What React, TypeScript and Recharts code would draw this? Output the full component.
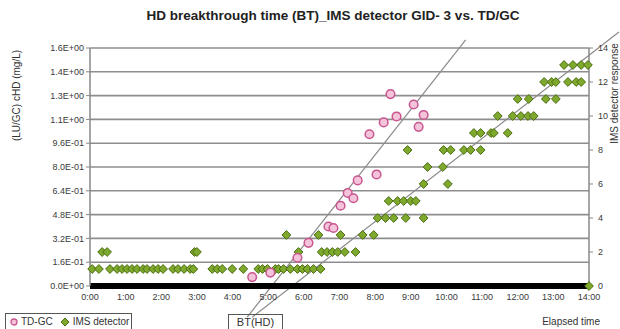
import { ScatterChart, Scatter, XAxis, YAxis, CartesianGrid, ReferenceLine } from 'recharts'

// TD/GC concentration (mg/L) vs elapsed hours
const tdgcTime = [4.55, 5.06, 5.82, 6.13, 6.69, 6.83, 7.03, 7.23, 7.39, 7.51, 7.84, 8.04, 8.24, 8.43, 8.6, 9.08, 9.22, 9.36]
const tdgcConc = [0.06, 0.09, 0.19, 0.29, 0.4, 0.39, 0.54, 0.625, 0.59, 0.71, 1.02, 0.75, 1.1, 1.29, 1.14, 1.22, 1.07, 1.15]

// IMS detector response (units) vs elapsed hours
const imsTime = [
  0.06, 0.25, 0.56, 0.76, 0.9, 1.04, 1.18, 1.32, 1.49, 1.6, 1.77, 1.91, 2.05, 2.33, 2.47, 2.64, 2.81, 2.9,
  3.43, 3.57, 3.71, 3.99, 4.3, 4.72, 4.84, 4.98, 5.2, 5.29, 5.43, 5.62, 5.82, 5.96, 6.1, 6.27, 6.47,
  0.34, 0.48, 2.93, 3.0, 5.85, 6.5, 6.65, 6.8, 6.95, 7.15, 7.45,
  5.51, 6.41, 7.03, 7.65, 7.96,
  8.07, 8.29, 8.52, 8.86, 9.36,
  8.38, 8.63, 8.8, 9.0, 9.14,
  9.36, 10.04,
  9.47, 9.9,
  8.91, 9.92, 10.12, 10.49, 10.68, 10.96,
  10.77, 10.96, 11.25, 11.33, 11.72,
  11.44, 11.86, 12.09, 12.29, 12.45,
  12.0, 12.31, 12.79, 13.07,
  12.74, 12.95, 13.07, 13.41, 13.64, 13.78,
  13.3, 13.55, 13.78, 13.97,
  14.0,
]
const imsResp = [
  1, 1, 1, 1, 1, 1, 1, 1, 1, 1, 1, 1, 1, 1, 1, 1, 1, 1,
  1, 1, 1, 1, 1, 1, 1, 1, 1, 1, 1, 1, 1, 1, 1, 1, 1,
  2, 2, 2, 2, 2, 2, 2, 2, 2, 2, 2,
  3, 3, 3, 3, 3,
  4, 4, 4, 4, 4,
  5, 5, 5, 5, 5,
  6, 6,
  7, 7,
  8, 8, 8, 8, 8, 8,
  9, 9, 9, 9, 9,
  10, 10, 10, 10, 10,
  11, 11, 11, 11,
  12, 12, 12, 12, 12, 12,
  13, 13, 13, 13,
  0,
]

// fitted trend lines (hours, mg/L), ends run down to the BT(HD) note
const tdgcTrend = [{ x: 4.41, y: -0.21 }, { x: 10.54, y: 1.654 }]
const imsTrend = [{ x: 4.55, y: -0.21 }, { x: 14.84, y: 1.708 }]

const xTicks = [0, 1, 2, 3, 4, 5, 6, 7, 8, 9, 10, 11, 12, 13, 14]
const leftTicks = [0, 0.16, 0.32, 0.48, 0.64, 0.8, 0.96, 1.12, 1.28, 1.44, 1.6]
const leftTickLabels = ['0.0E+00', '1.6E-01', '3.2E-01', '4.8E-01', '6.4E-01', '8.0E-01', '9.6E-01', '1.1E+00', '1.3E+00', '1.4E+00', '1.6E+00']
const rightTicks = [0, 2, 4, 6, 8, 10, 12, 14]

const tdgcData = tdgcTime.map((h, i) => ({ h, v: tdgcConc[i] }))
const imsData = imsTime.map((h, i) => ({ h, v: imsResp[i] }))

const FONT = '"Liberation Sans", Arial, sans-serif'
const tick = { fontSize: 9, fill: '#3a3a3a', fontFamily: FONT }

const PinkDot = (p: any) => (
  <circle cx={p.cx} cy={p.cy} r={4.3} fill="#f3c4da" stroke="#c9558f" strokeWidth={1.5} />
)

const GreenDiamond = (p: any) => {
  const { cx, cy } = p
  const r = 4.4
  return (
    <polygon
      points={`${cx},${cy - r} ${cx + r},${cy} ${cx},${cy + r} ${cx - r},${cy}`}
      fill="#7fa92c"
      stroke="#4a6d14"
      strokeWidth={1}
    />
  )
}

export default function App() {
  return (
    <div style={{ position: 'absolute', left: 0, top: 0, width: 620, height: 329, background: '#fff', fontFamily: FONT, overflow: 'hidden' }}>
      <div style={{ position: 'absolute', left: 0, width: 620, top: 8, textAlign: 'center', paddingLeft: 46, boxSizing: 'border-box', fontSize: 13.5, fontWeight: 'bold', color: '#222' }}>
        HD breakthrough time (BT)_IMS detector GID- 3 vs. TD/GC
      </div>

      <ScatterChart width={620} height={329} margin={{ top: 48, right: 6, left: 30, bottom: 23 }}>
        <CartesianGrid yAxisId="left" vertical={false} stroke="#8e8e8e" strokeWidth={1.6} />
        <XAxis
          type="number"
          dataKey="h"
          domain={[0, 14]}
          ticks={xTicks}
          tickFormatter={(v) => `${v}:00`}
          tick={tick}
          tickLine={false}
          axisLine={{ stroke: '#000', strokeWidth: 6 }}
          height={20}
          interval={0}
        />
        <YAxis
          yAxisId="left"
          type="number"
          dataKey="v"
          domain={[0, 1.6]}
          ticks={leftTicks}
          tickFormatter={(v, i) => leftTickLabels[i]}
          tick={tick}
          tickSize={4}
          axisLine={{ stroke: '#888', strokeWidth: 1.5 }}
          tickLine={{ stroke: '#888' }}
          width={60}
          interval={0}
        />
        <YAxis
          yAxisId="right"
          orientation="right"
          type="number"
          dataKey="v"
          domain={[0, 14]}
          ticks={rightTicks}
          tick={tick}
          tickSize={4}
          tickMargin={5}
          axisLine={{ stroke: '#888', strokeWidth: 1.5 }}
          tickLine={{ stroke: '#888' }}
          width={25}
          interval={0}
        />
        <ReferenceLine yAxisId="left" segment={tdgcTrend} stroke="#8a8a8a" strokeWidth={1.2} ifOverflow="visible" />
        <ReferenceLine yAxisId="left" segment={imsTrend} stroke="#8a8a8a" strokeWidth={1.2} ifOverflow="visible" />
        <Scatter name="IMS detector" yAxisId="right" data={imsData} shape={GreenDiamond} isAnimationActive={false} />
        <Scatter name="TD-GC" yAxisId="left" data={tdgcData} shape={PinkDot} isAnimationActive={false} />
      </ScatterChart>

      <div style={{ position: 'absolute', left: 10, top: 30, width: 14, height: 130, display: 'flex', alignItems: 'center', justifyContent: 'center' }}>
        <div style={{ transform: 'rotate(-90deg)', whiteSpace: 'nowrap', fontSize: 10, color: '#333' }}>(LU/GC) cHD (mg/L)</div>
      </div>
      <div style={{ position: 'absolute', left: 607, top: 28, width: 14, height: 130, display: 'flex', alignItems: 'center', justifyContent: 'center' }}>
        <div style={{ transform: 'rotate(-90deg)', whiteSpace: 'nowrap', fontSize: 10, color: '#333' }}>IMS detector response</div>
      </div>

      <div style={{ position: 'absolute', left: 5, top: 313, width: 127, height: 20, border: '1px solid #555', boxSizing: 'border-box', fontSize: 10, color: '#333', display: 'flex', alignItems: 'flex-start', paddingTop: 2, paddingLeft: 3 }}>
        <svg width={10} height={12} style={{ marginRight: 2 }}>
          <circle cx={5} cy={6} r={3} fill="#f3c4da" stroke="#c9558f" strokeWidth={1.3} />
        </svg>
        <span>TD-GC</span>
        <svg width={12} height={12} style={{ marginLeft: 6, marginRight: 2 }}>
          <polygon points="6,2 10,6 6,10 2,6" fill="#7fa92c" stroke="#4a6d14" strokeWidth={1} />
        </svg>
        <span>IMS detector</span>
      </div>

      <div style={{ position: 'absolute', left: 228, top: 314, width: 55, height: 20, border: '1px solid #555', boxSizing: 'border-box', fontSize: 11, color: '#333', textAlign: 'center', paddingTop: 1 }}>
        BT(HD)
      </div>

      <div style={{ position: 'absolute', right: 20, top: 316, fontSize: 10, color: '#333' }}>Elapsed time</div>
    </div>
  )
}
